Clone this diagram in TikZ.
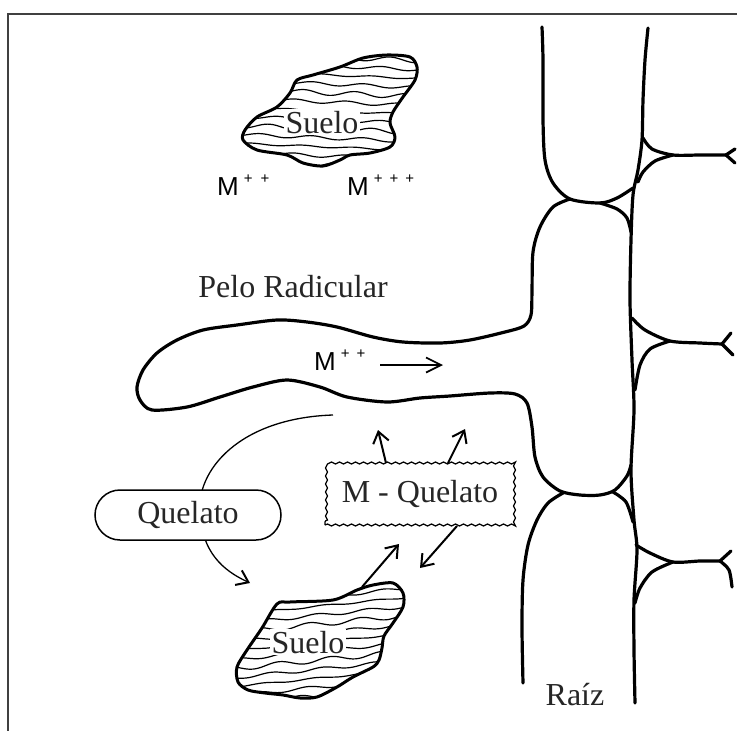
\documentclass[tikz,border=0pt]{standalone}
\usepackage{fontspec}
\setmainfont{Liberation Serif}
\setsansfont{Liberation Sans}
\usetikzlibrary{arrows.meta,decorations.pathmorphing}
% charge superscript: spaced plus signs raised beside the metal symbol
\newcommand\chargesign[1]{\hspace{5pt}\raisebox{12pt}{\fontsize{15}{15}\selectfont #1}}
\begin{document}
\begin{tikzpicture}[x=1pt,y=-1pt,
  wall/.style={line width=3.2pt, line cap=round, line join=round},
  clod/.style={line width=3pt, line join=round},
  hatch/.style={line width=1.2pt},
  flow/.style={line width=2pt, -{Straight Barb[length=11pt,width=16pt,line width=2pt]}},
  label/.style={font=\fontsize{32}{36}\selectfont, text=black!85, inner sep=0pt},
  ion/.style={font=\sffamily\fontsize{26}{26}\selectfont, inner sep=0pt, anchor=base west},
  frame/.style={line width=1.3pt, black!75}]

\useasboundingbox (0,0) rectangle (737,731);

% frame (top and left edges)
\draw[frame] (8,731) -- (8,14) -- (737,14);

% ---------- root cortex cells ----------
% upper cell: left wall and bottom
\draw[wall] plot[smooth] coordinates {(542,27) (543,60) (543,120) (545,160) (553,183) (570,199) (600,203) (617,198) (633,188)};
% long cell wall between the columns
\draw[wall] plot[smooth] coordinates {(648,28) (645,60) (643,100) (642,140) (638,170) (633,195) (631,240) (630,300) (632,360) (634,410) (631,470) (634,520) (637,550) (634,600) (634,650) (635,703)};
% right column, first cross wall
\draw[wall] plot[smooth] coordinates {(643,138) (652,149) (673,155) (700,155) (726,155)};
\draw[wall] (726,155) -- (735,149);
\draw[wall] (726,155) -- (735,163);
\draw[wall] plot[smooth] coordinates {(673,155) (655,161) (643,172) (638,182)};
% right column, second cross wall
\draw[wall] plot[smooth] coordinates {(632,318) (645,330) (670,341) (700,343) (722,344)};
\draw[wall] (722,344) -- (731,333);
\draw[wall] (722,344) -- (733,355);
\draw[wall] plot[smooth] coordinates {(670,341) (650,349) (640,365) (635,390)};
% right column, third cross wall
\draw[wall] plot[smooth] coordinates {(636,545) (650,553) (673,562) (700,561) (720,561)};
\draw[wall] (720,561) -- (731,551);
\draw[wall] plot[smooth] coordinates {(720,561) (729,570) (732,587)};
\draw[wall] plot[smooth] coordinates {(673,562) (652,572) (640,588) (635,603)};
% middle cell with the root hair growing out of it
\draw[wall] plot[smooth] coordinates {(570,199) (553,207) (540,227) (533,252) (532,290) (531,315) (524,326) (505,332) (470,340) (440,343) (403,342) (373,337) (337,327) (307,322) (277,320) (237,325) (203,330) (177,340) (157,353) (143,370) (137,387) (140,400) (152,410) (187,407) (220,397) (253,387) (287,380) (320,387) (347,397) (387,402) (420,398) (450,396) (490,393) (515,394) (527,403) (532,427) (535,457) (543,477) (560,491) (580,495) (600,495) (615,490) (627,476) (631,465)};
\draw[wall] plot[smooth] coordinates {(600,203) (617,209) (627,218) (631,232)};
% lower cell
\draw[wall] plot[smooth] coordinates {(563,493) (548,503) (537,520) (528,545) (523,580) (522,627) (523,683)};
\draw[wall] plot[smooth] coordinates {(613,492) (626,502) (633,522)};

% ---------- soil clod, top ----------
\begin{scope}
  \clip plot[smooth cycle] coordinates {(387,55) (410,57) (417,67) (415,80) (403,97) (393,112) (390,123) (395,137) (390,147) (370,153) (350,155) (340,160) (323,166) (303,163) (287,155) (257,150) (243,140) (245,130) (257,117) (277,107) (290,93) (297,80) (313,75) (340,67) (363,58)};
  \foreach \yy [count=\i] in {57,66,...,168}
    \draw[hatch] plot[domain=235:420, samples=70, smooth] (\x, {\yy + (1.6+0.8*sin(90*\i))*sin(7*\x + 61*\i) + 0.04*(\x-330)});
\end{scope}
\draw[clod] plot[smooth cycle] coordinates {(387,55) (410,57) (417,67) (415,80) (403,97) (393,112) (390,123) (395,137) (390,147) (370,153) (350,155) (340,160) (323,166) (303,163) (287,155) (257,150) (243,140) (245,130) (257,117) (277,107) (290,93) (297,80) (313,75) (340,67) (363,58)};
\node[label, fill=white, inner sep=2pt, anchor=base] (soilTop) at (322,133) {Suelo};

\node[ion] (ionTwo) at (217,195) {M\chargesign{+\hspace{8pt}+}};
\node[ion] (ionThree) at (347,195) {M\chargesign{+\hspace{7pt}+\hspace{7pt}+}};

% ---------- soil clod, bottom ----------
\begin{scope}
  \clip plot[smooth cycle] coordinates {(290,602) (277,604) (262,628) (247,650) (237,667) (238,682) (248,690) (265,693) (283,695) (300,698) (317,697) (337,687) (353,677) (373,667) (379,660) (382,648) (384,636) (393,623) (403,607) (403,593) (393,583) (373,585) (357,590) (333,600)};
  \foreach \yy [count=\i] in {588,597,...,710}
    \draw[hatch] plot[domain=230:410, samples=70, smooth] (\x, {\yy + (1.6+0.8*sin(90*\i))*sin(7*\x + 53*\i) - 0.1*(\x-320)});
\end{scope}
\draw[clod] plot[smooth cycle] coordinates {(290,602) (277,604) (262,628) (247,650) (237,667) (238,682) (248,690) (265,693) (283,695) (300,698) (317,697) (337,687) (353,677) (373,667) (379,660) (382,648) (384,636) (393,623) (403,607) (403,593) (393,583) (373,585) (357,590) (333,600)};
\node[label, fill=white, inner sep=2pt, anchor=base] (soilLow) at (308,653) {Suelo};

% ---------- labels ----------
\node[label, anchor=base] (hairLabel) at (293,297) {Pelo Radicular};
\node[label, anchor=base] (rootLabel) at (575,705) {Raíz};

% ion moving along the root hair
\node[ion] (ionHair) at (314,370) {M\chargesign{+\hspace{7pt}+}};
\coordinate (flowStart) at (380,365);
\coordinate (flowEnd) at (443,365);
\draw[line width=1.7pt, -{Straight Barb[length=15pt,width=15pt,line width=1.7pt]}] (flowStart) -- (flowEnd);

% chelate path from the root hair down to the soil
\coordinate (hairSource) at (333,415);
\coordinate (soilTarget) at (250,583);
\draw[line width=1.3pt, -{Straight Barb[length=11pt,width=16pt,line width=2pt]}] (hairSource) .. controls (240,418) and (195,470) .. (200,515) .. controls (203,552) and (222,570) .. (soilTarget);
\node[label, draw, line width=1.5pt, fill=white, rounded corners=25pt, minimum width=186pt, minimum height=50pt] (chelate) at (188,515) {Quelato};

% metal chelate complex
\node[label, draw, line width=1.2pt, fill=white, decorate, decoration={snake, amplitude=1pt, segment length=8pt}, minimum width=190pt, minimum height=62pt] (complex) at (420,494) {M - Quelato};

\coordinate (complexTopA) at (386,463);
\coordinate (complexTopB) at (448,463);
\coordinate (releaseA) at (378,430);
\coordinate (releaseB) at (465,429);
\draw[flow] (complexTopA) -- (releaseA);
\draw[flow] (complexTopB) -- (releaseB);

\coordinate (soilOut) at (362,587);
\coordinate (complexIn) at (399,544);
\coordinate (complexOut) at (457,526);
\coordinate (soilIn) at (420,568);
\draw[flow] (soilOut) -- (complexIn);
\draw[flow] (complexOut) -- (soilIn);
\end{tikzpicture}
\end{document}
